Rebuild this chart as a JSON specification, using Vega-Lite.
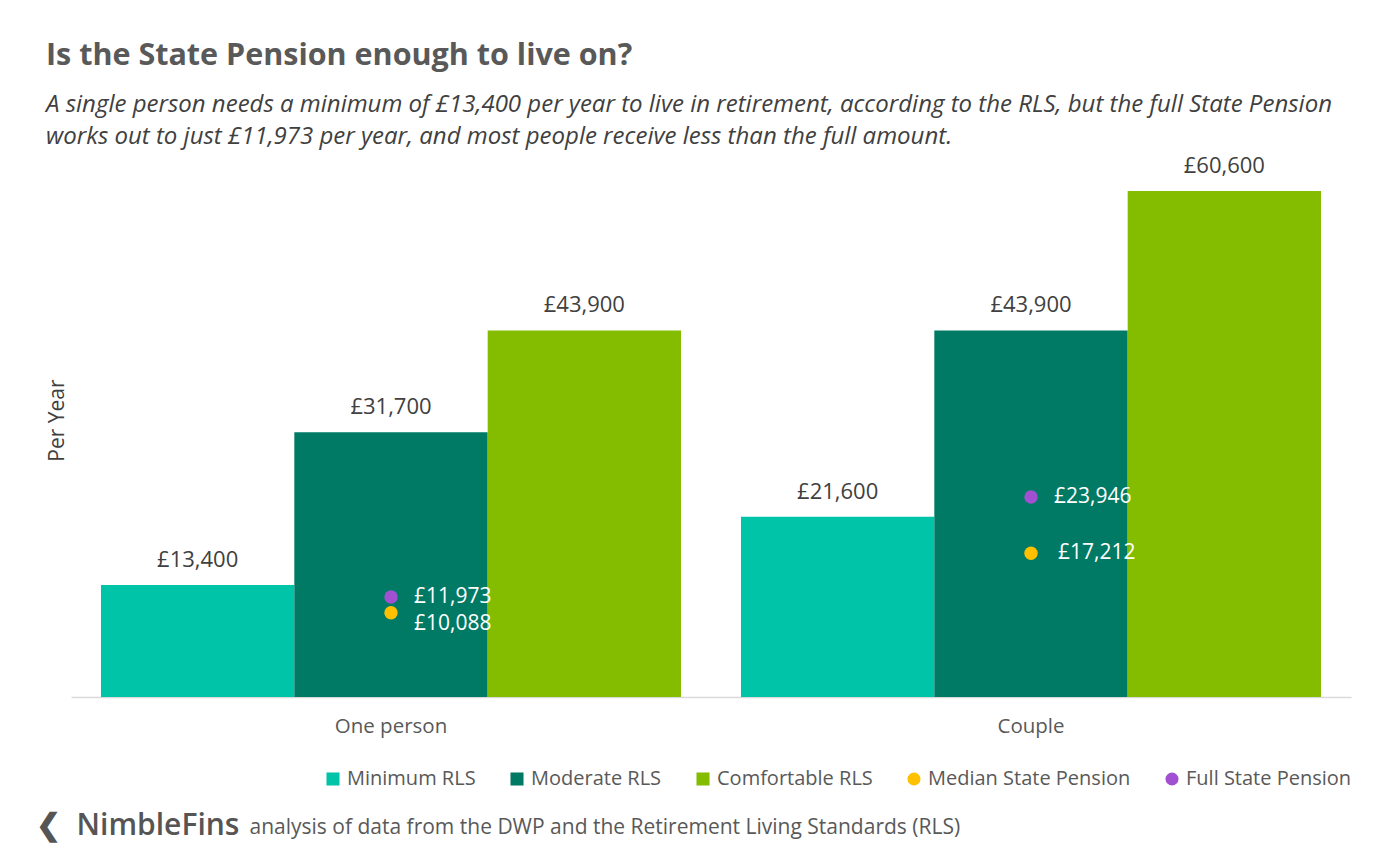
{
  "$schema": "https://vega.github.io/schema/vega-lite/v6.json",
  "background": "white",
  "padding": {"left": 36, "top": 40, "right": 10, "bottom": 10},
  "config": {
    "font": "Open Sans",
    "view": {"stroke": null},
    "locale": {"number": {"decimal": ".", "thousands": ",", "grouping": [3], "currency": ["£", ""]}},
    "legend": {
      "orient": "none",
      "legendX": 252,
      "legendY": 578,
      "direction": "horizontal",
      "labelFontSize": 20,
      "labelColor": "#595959",
      "labelFont": "Open Sans",
      "labelLimit": 0,
      "symbolSize": 170,
      "symbolStrokeWidth": 0,
      "columnPadding": 31,
      "labelOffset": 4
    }
  },
  "title": {
    "text": "Is the State Pension enough to live on?",
    "subtitle": [
      "A single person needs a minimum of £13,400 per year to live in retirement, according to the RLS, but the full State Pension",
      "works out to just £11,973 per year, and most people receive less than the full amount."
    ],
    "anchor": "start",
    "frame": "bounds",
    "dx": 10,
    "fontSize": 30.5,
    "fontWeight": "bold",
    "color": "#595959",
    "subtitleFontSize": 24,
    "subtitleFontStyle": "italic",
    "subtitleColor": "#404040",
    "subtitleLineHeight": 32,
    "subtitlePadding": 22,
    "offset": 6
  },
  "datasets": {
    "levels": [
      {"group": "One person", "series": "Minimum RLS", "value": 13400},
      {"group": "One person", "series": "Moderate RLS", "value": 31700},
      {"group": "One person", "series": "Comfortable RLS", "value": 43900},
      {"group": "Couple", "series": "Minimum RLS", "value": 21600},
      {"group": "Couple", "series": "Moderate RLS", "value": 43900},
      {"group": "Couple", "series": "Comfortable RLS", "value": 60600}
    ],
    "pension": [
      {"group": "One person", "series": "Full State Pension", "value": 11973},
      {"group": "One person", "series": "Median State Pension", "value": 10088},
      {"group": "Couple", "series": "Full State Pension", "value": 23946},
      {"group": "Couple", "series": "Median State Pension", "value": 17212}
    ]
  },
  "vconcat": [
    {
      "width": 1280,
      "height": 506,
      "title": {
        "text": "❮\u00a0\u00a0NimbleFins",
        "orient": "bottom",
        "anchor": "start",
        "frame": "group",
        "fontSize": 30,
        "fontWeight": 600,
        "color": "#555555",
        "dx": -35,
        "offset": -26
      },
      "encoding": {
        "x": {
          "field": "group",
          "type": "nominal",
          "sort": ["One person", "Couple"],
          "scale": {"paddingInner": 0, "paddingOuter": 0},
          "axis": {
            "title": "analysis of data from the DWP and the Retirement Living Standards (RLS)",
            "labelAngle": 0,
            "ticks": false,
            "domainColor": "#d9d9d9",
            "domainWidth": 1.5,
            "labelFontSize": 20.5,
            "labelColor": "#595959",
            "labelPadding": 19,
            "titleFontSize": 21,
            "titleFontWeight": "normal",
            "titleColor": "#595959",
            "titleAlign": "left",
            "titleAnchor": "start",
            "titleX": 178,
            "titleY": 130,
            "titleBaseline": "middle"
          }
        },
        "y": {
          "field": "value",
          "type": "quantitative",
          "scale": {"domain": [0, 60600], "nice": false},
          "axis": {
            "title": "Per Year",
            "labels": false,
            "ticks": false,
            "domain": false,
            "grid": false,
            "titleFontSize": 21,
            "titleFontWeight": "normal",
            "titleColor": "#404040",
            "titlePadding": 4,
            "titleY": 229
          }
        }
      },
      "layer": [
        {
          "data": {"name": "levels"},
          "mark": {"type": "bar"},
          "encoding": {
            "xOffset": {
              "field": "series",
              "type": "nominal",
              "sort": ["Minimum RLS", "Moderate RLS", "Comfortable RLS"],
              "scale": {"paddingInner": 0, "paddingOuter": 0.155}
            },
            "color": {
              "field": "series",
              "type": "nominal",
              "scale": {
                "domain": ["Minimum RLS", "Moderate RLS", "Comfortable RLS", "Median State Pension", "Full State Pension"],
                "range": ["#00C4A8", "#007A65", "#84BD00", "#FFC000", "#A050D0"]
              },
              "legend": {"title": null}
            }
          }
        },
        {
          "data": {"name": "levels"},
          "mark": {"type": "text", "baseline": "middle", "dy": -25, "fontSize": 22, "color": "#404040"},
          "encoding": {
            "xOffset": {
              "field": "series",
              "type": "nominal",
              "sort": ["Minimum RLS", "Moderate RLS", "Comfortable RLS"]
            },
            "text": {"field": "value", "type": "quantitative", "format": "$,.0f"}
          }
        },
        {
          "data": {"name": "pension"},
          "mark": {"type": "point", "filled": true, "size": 180, "opacity": 1},
          "encoding": {
            "color": {
              "field": "series",
              "type": "nominal",
              "scale": {
                "domain": ["Minimum RLS", "Moderate RLS", "Comfortable RLS", "Median State Pension", "Full State Pension"],
                "range": ["#00C4A8", "#007A65", "#84BD00", "#FFC000", "#A050D0"]
              },
              "legend": {"title": null}
            },
            "shape": {
              "field": "series",
              "type": "nominal",
              "scale": {
                "domain": ["Minimum RLS", "Moderate RLS", "Comfortable RLS", "Median State Pension", "Full State Pension"],
                "range": ["square", "square", "square", "circle", "circle"]
              },
              "legend": {"title": null}
            }
          }
        },
        {
          "data": {"name": "pension"},
          "transform": [{"filter": "datum.series === 'Full State Pension'"}],
          "mark": {"type": "text", "align": "left", "baseline": "middle", "dx": 23, "fontSize": 21, "color": "#ffffff"},
          "encoding": {"text": {"field": "value", "type": "quantitative", "format": "$,.0f"}}
        },
        {
          "data": {"name": "pension"},
          "transform": [{"filter": "datum.series === 'Median State Pension' && datum.group === 'One person'"}],
          "mark": {"type": "text", "align": "left", "baseline": "middle", "dx": 23, "dy": 11, "fontSize": 21, "color": "#ffffff"},
          "encoding": {"text": {"field": "value", "type": "quantitative", "format": "$,.0f"}}
        },
        {
          "data": {"name": "pension"},
          "transform": [{"filter": "datum.series === 'Median State Pension' && datum.group === 'Couple'"}],
          "mark": {"type": "text", "align": "left", "baseline": "middle", "dx": 27, "fontSize": 21, "color": "#ffffff"},
          "encoding": {"text": {"field": "value", "type": "quantitative", "format": "$,.0f"}}
        }
      ]
    }
  ]
}
